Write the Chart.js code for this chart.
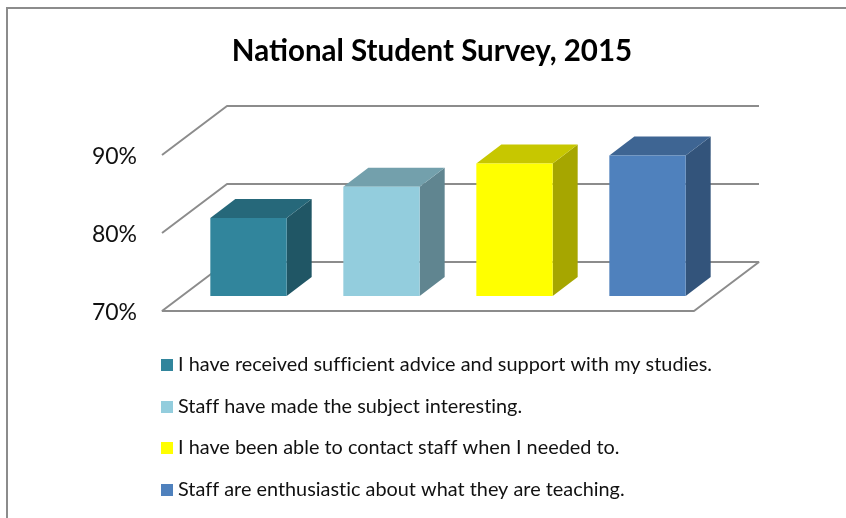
<!DOCTYPE html>
<html>
<head>
<meta charset="utf-8">
<title>National Student Survey, 2015</title>
<script src="https://cdn.jsdelivr.net/npm/chart.js@4"></script>
<style>
  html, body { margin: 0; padding: 0; background: #fff; }
  #wrap { position: relative; width: 846px; height: 518px; overflow: hidden; }
  #frame { position: absolute; left: 6px; top: 7px; width: 860px; height: 560px; border: 2px solid #8c8c8c; }
  canvas { position: absolute; left: 0; top: 0; }
</style>
</head>
<body>
<div id="wrap">
  <div id="frame"></div>
  <canvas id="myChart" width="846" height="518"></canvas>
</div>
<script>
const chartTitle = 'National Student Survey, 2015';
const categories = ['2015'];
const statements = [
  'I have received sufficient advice and support with my studies.',
  'Staff have made the subject interesting.',
  'I have been able to contact staff when I needed to.',
  'Staff are enthusiastic about what they are teaching.'
];
const scores = [80, 84, 87, 88];
const barColors = ['#31859C', '#93CDDD', '#FFFF00', '#4F81BD'];
const yTicks = [70, 80, 90];

// depth of the fake 3D box
const wallDx = 65, wallDy = 49;
const barDx = 20, barDy = 15;
const sideDx = 25, sideDy = 19;
const lineColor = '#8c8c8c';

function shade(hex, k) {
  const n = parseInt(hex.slice(1), 16);
  const c = [n >> 16, (n >> 8) & 255, n & 255].map(v => Math.round(v * k));
  return `rgb(${c[0]},${c[1]},${c[2]})`;
}

const box3d = {
  id: 'box3d',
  // floor and back wall lines
  beforeDatasetsDraw(chart) {
    const { ctx, chartArea: a, scales: { y } } = chart;
    ctx.save();
    ctx.strokeStyle = lineColor;
    ctx.lineWidth = 2;
    ctx.lineJoin = 'bevel';
    const backRight = a.right + wallDx;
    yTicks.forEach(t => {
      const py = y.getPixelForValue(t);
      ctx.beginPath();
      ctx.moveTo(a.left, py);
      ctx.lineTo(a.left + wallDx, py - wallDy);
      ctx.lineTo(backRight, py - wallDy);
      if (t === yTicks[0]) {
        ctx.lineTo(a.right, py);
        ctx.closePath();
      }
      ctx.stroke();
    });
    ctx.restore();

    // side and top faces, then shift the front faces back from the floor edge
    ctx.save();
    chart.data.datasets.forEach((ds, i) => {
      chart.getDatasetMeta(i).data.forEach(bar => {
        const l = bar.x - bar.width / 2 + barDx;
        const r = bar.x + bar.width / 2 + barDx;
        const t = bar.y - barDy;
        const b = bar.base - barDy;
        ctx.fillStyle = shade(ds.backgroundColor, 0.65);
        ctx.beginPath();
        ctx.moveTo(r, t);
        ctx.lineTo(r + sideDx, t - sideDy);
        ctx.lineTo(r + sideDx, b - sideDy);
        ctx.lineTo(r, b);
        ctx.closePath();
        ctx.fill();
        ctx.fillStyle = shade(ds.backgroundColor, 0.78);
        ctx.beginPath();
        ctx.moveTo(l, t);
        ctx.lineTo(l + sideDx, t - sideDy);
        ctx.lineTo(r + sideDx, t - sideDy);
        ctx.lineTo(r, t);
        ctx.closePath();
        ctx.fill();
      });
    });
    ctx.restore();
    ctx.save();
    ctx.translate(barDx, -barDy);
  },
  afterDatasetsDraw(chart) {
    chart.ctx.restore();
    // one legend entry per row
    const { ctx } = chart;
    const rows = [365, 407, 448, 490];
    ctx.save();
    ctx.font = '19.85px Lato';
    ctx.letterSpacing = '0.01px';
    ctx.textBaseline = 'middle';
    statements.forEach((s, i) => {
      ctx.fillStyle = barColors[i];
      ctx.fillRect(161, rows[i] - 6, 12, 12);
      ctx.fillStyle = '#111';
      ctx.fillText(s, 178, rows[i]);
    });
    ctx.restore();
  }
};

new Chart(document.getElementById('myChart'), {
  type: 'bar',
  data: {
    labels: categories,
    datasets: statements.map((s, i) => ({
      label: s,
      data: [scores[i]],
      base: yTicks[0],
      backgroundColor: barColors[i],
      categoryPercentage: 1,
      barPercentage: 0.574,
      clip: false
    }))
  },
  options: {
    responsive: false,
    animation: false,
    layout: { padding: { left: 18, right: 0, top: 0, bottom: 207 } },
    plugins: {
      legend: { display: false },
      tooltip: { enabled: false },
      title: {
        display: true,
        text: chartTitle,
        color: '#000',
        font: { family: 'Lato', size: 29.5, weight: 'bold' },
        padding: { top: 34, bottom: 85.6 }
      }
    },
    scales: {
      x: { display: false },
      y: {
        min: 70,
        max: 90,
        afterFit(axis) { axis.width = 144; },
        afterBuildTicks(axis) { axis.ticks = yTicks.map(v => ({ value: v })); },
        grid: { display: false },
        border: { display: false },
        ticks: {
          color: '#111',
          padding: 17,
          labelOffset: 2,
          font: { family: 'Lato', size: 23 },
          callback: v => v + '%'
        }
      },
      // empty axis keeps the plot clear of the right margin
      spacer: {
        type: 'linear',
        position: 'right',
        display: true,
        afterFit(axis) { axis.width = 152; },
        grid: { display: false },
        border: { display: false },
        ticks: { display: false }
      }
    }
  },
  plugins: [box3d]
});
</script>
</body>
</html>
